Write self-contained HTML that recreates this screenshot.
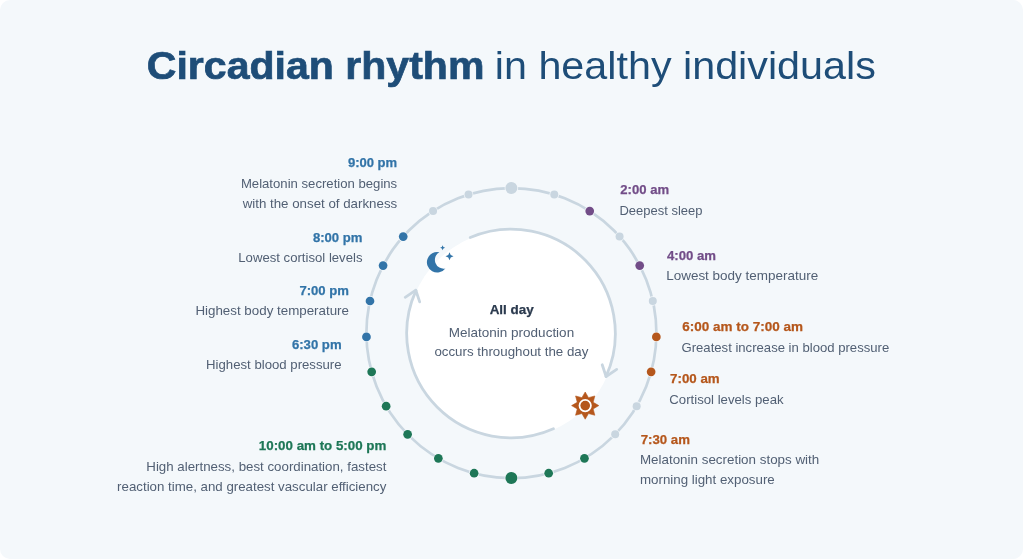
<!DOCTYPE html>
<html><head><meta charset="utf-8"><title>Circadian rhythm in healthy individuals</title>
<style>
html,body{margin:0;padding:0;background:#fff;}
.card{position:relative;width:1023px;height:559px;background:#f4f8fb;border-radius:10px;overflow:hidden;}
svg{position:absolute;left:0;top:0;will-change:transform;}
text{font-family:"Liberation Sans",Arial,sans-serif;font-size:13.3px;}
</style></head>
<body><div class="card">
<svg width="1023" height="559" viewBox="0 0 1023 559">
<text x="146.8" y="79" style="font-size:38.5px" font-weight="700" fill="#1e4d78" stroke="#1e4d78" stroke-width="0.7" textLength="337.6" lengthAdjust="spacingAndGlyphs">Circadian rhythm</text><text x="494.8" y="79" style="font-size:38.5px" font-weight="400" fill="#1e4d78" textLength="381" lengthAdjust="spacingAndGlyphs">in healthy individuals</text>
<circle cx="511.4" cy="333.1" r="145.0" fill="none" stroke="#c9d6e0" stroke-width="2.7"/>
<circle cx="511.4" cy="334.3" r="104.4" fill="#ffffff"/>
<path d="M470.25,237.49 A104.3,104.3 0 0 1 606.06,376.42" fill="none" stroke="#c9d6e0" stroke-width="2.8" stroke-linecap="round"/><path d="M553.42,428.78 A104.3,104.3 0 0 1 415.94,290.58" fill="none" stroke="#c9d6e0" stroke-width="2.8" stroke-linecap="round"/>
<path d="M602.20,364.80 L606.1,376.5 L616.70,369.40" fill="none" stroke="#c9d6e0" stroke-width="2.8" stroke-linecap="round" stroke-linejoin="round"/><path d="M419.70,301.90 L415.8,290.2 L405.20,297.30" fill="none" stroke="#c9d6e0" stroke-width="2.8" stroke-linecap="round" stroke-linejoin="round"/>
<circle cx="511.40" cy="188.10" r="6.80" fill="#f4f8fb"/><circle cx="511.40" cy="478.10" r="6.80" fill="#f4f8fb"/><circle cx="554.28" cy="194.58" r="4.80" fill="#f4f8fb"/><circle cx="589.73" cy="211.08" r="5.15" fill="#f4f8fb"/><circle cx="619.58" cy="236.55" r="4.80" fill="#f4f8fb"/><circle cx="639.72" cy="265.59" r="5.15" fill="#f4f8fb"/><circle cx="652.80" cy="300.98" r="4.80" fill="#f4f8fb"/><circle cx="656.35" cy="336.90" r="5.15" fill="#f4f8fb"/><circle cx="651.13" cy="371.85" r="5.15" fill="#f4f8fb"/><circle cx="636.66" cy="406.15" r="4.80" fill="#f4f8fb"/><circle cx="615.18" cy="434.37" r="4.80" fill="#f4f8fb"/><circle cx="584.45" cy="458.36" r="5.15" fill="#f4f8fb"/><circle cx="548.68" cy="473.22" r="5.15" fill="#f4f8fb"/><circle cx="468.52" cy="194.58" r="4.80" fill="#f4f8fb"/><circle cx="433.07" cy="211.08" r="4.80" fill="#f4f8fb"/><circle cx="403.22" cy="236.55" r="5.15" fill="#f4f8fb"/><circle cx="383.08" cy="265.59" r="5.15" fill="#f4f8fb"/><circle cx="370.00" cy="300.98" r="5.15" fill="#f4f8fb"/><circle cx="366.45" cy="336.90" r="5.15" fill="#f4f8fb"/><circle cx="371.67" cy="371.85" r="5.15" fill="#f4f8fb"/><circle cx="386.14" cy="406.15" r="5.15" fill="#f4f8fb"/><circle cx="407.62" cy="434.37" r="5.15" fill="#f4f8fb"/><circle cx="438.35" cy="458.36" r="5.15" fill="#f4f8fb"/><circle cx="474.12" cy="473.22" r="5.15" fill="#f4f8fb"/><circle cx="511.40" cy="188.10" r="6" fill="#c9d6e0"/><circle cx="511.40" cy="478.10" r="6" fill="#1e7757"/><circle cx="554.28" cy="194.58" r="4.0" fill="#c9d6e0"/><circle cx="589.73" cy="211.08" r="4.35" fill="#724d88"/><circle cx="619.58" cy="236.55" r="4.0" fill="#c9d6e0"/><circle cx="639.72" cy="265.59" r="4.35" fill="#724d88"/><circle cx="652.80" cy="300.98" r="4.0" fill="#c9d6e0"/><circle cx="656.35" cy="336.90" r="4.35" fill="#b5571c"/><circle cx="651.13" cy="371.85" r="4.35" fill="#b5571c"/><circle cx="636.66" cy="406.15" r="4.0" fill="#c9d6e0"/><circle cx="615.18" cy="434.37" r="4.0" fill="#c9d6e0"/><circle cx="584.45" cy="458.36" r="4.35" fill="#1e7757"/><circle cx="548.68" cy="473.22" r="4.35" fill="#1e7757"/><circle cx="468.52" cy="194.58" r="4.0" fill="#c9d6e0"/><circle cx="433.07" cy="211.08" r="4.0" fill="#c9d6e0"/><circle cx="403.22" cy="236.55" r="4.35" fill="#3274a8"/><circle cx="383.08" cy="265.59" r="4.35" fill="#3274a8"/><circle cx="370.00" cy="300.98" r="4.35" fill="#3274a8"/><circle cx="366.45" cy="336.90" r="4.35" fill="#3274a8"/><circle cx="371.67" cy="371.85" r="4.35" fill="#1e7757"/><circle cx="386.14" cy="406.15" r="4.35" fill="#1e7757"/><circle cx="407.62" cy="434.37" r="4.35" fill="#1e7757"/><circle cx="438.35" cy="458.36" r="4.35" fill="#1e7757"/><circle cx="474.12" cy="473.22" r="4.35" fill="#1e7757"/>
<path d="M439.38,252.23 A10.3,10.3 0 1 0 445.40,268.53 A8.8,8.8 0 0 1 439.38,252.23 Z" fill="#3274a8"/>
<polygon points="442.60,245.20 443.38,246.92 445.10,247.70 443.38,248.48 442.60,250.20 441.82,248.48 440.10,247.70 441.82,246.92" fill="#3274a8"/>
<polygon points="449.50,252.30 450.70,255.10 453.50,256.30 450.70,257.50 449.50,260.30 448.30,257.50 445.50,256.30 448.30,255.10" fill="#3274a8"/>
<polygon points="585.20,392.00 588.49,397.65 594.82,395.98 593.15,402.31 598.80,405.60 593.15,408.89 594.82,415.22 588.49,413.55 585.20,419.20 581.91,413.55 575.58,415.22 577.25,408.89 571.60,405.60 577.25,402.31 575.58,395.98 581.91,397.65" fill="#b5571c" stroke="#b5571c" stroke-width="0.6" stroke-linejoin="round"/><circle cx="585.2" cy="405.6" r="5.7" fill="none" stroke="#fff" stroke-width="1.8"/><circle cx="585.2" cy="405.6" r="4.3" fill="#b5571c"/>
<text x="397.2" y="166.7" text-anchor="end" font-weight="700" fill="#3274a8" stroke="#3274a8" stroke-width="0.25" textLength="49.3" lengthAdjust="spacingAndGlyphs">9:00 pm</text><text x="397.2" y="187.5" text-anchor="end" font-weight="400" fill="#526074" textLength="156.3" lengthAdjust="spacingAndGlyphs">Melatonin secretion begins</text><text x="397.2" y="207.7" text-anchor="end" font-weight="400" fill="#526074" textLength="154.5" lengthAdjust="spacingAndGlyphs">with the onset of darkness</text><text x="362.5" y="241.6" text-anchor="end" font-weight="700" fill="#3274a8" stroke="#3274a8" stroke-width="0.25" textLength="49.6" lengthAdjust="spacingAndGlyphs">8:00 pm</text><text x="362.5" y="261.7" text-anchor="end" font-weight="400" fill="#526074" textLength="124.2" lengthAdjust="spacingAndGlyphs">Lowest cortisol levels</text><text x="349.0" y="295.3" text-anchor="end" font-weight="700" fill="#3274a8" stroke="#3274a8" stroke-width="0.25" textLength="49.6" lengthAdjust="spacingAndGlyphs">7:00 pm</text><text x="349.0" y="314.9" text-anchor="end" font-weight="400" fill="#526074" textLength="153.6" lengthAdjust="spacingAndGlyphs">Highest body temperature</text><text x="341.6" y="348.9" text-anchor="end" font-weight="700" fill="#3274a8" stroke="#3274a8" stroke-width="0.25" textLength="49.7" lengthAdjust="spacingAndGlyphs">6:30 pm</text><text x="341.6" y="368.5" text-anchor="end" font-weight="400" fill="#526074" textLength="135.5" lengthAdjust="spacingAndGlyphs">Highest blood pressure</text><text x="386.4" y="449.8" text-anchor="end" font-weight="700" fill="#1e7757" stroke="#1e7757" stroke-width="0.25" textLength="127.6" lengthAdjust="spacingAndGlyphs">10:00 am to 5:00 pm</text><text x="386.4" y="470.5" text-anchor="end" font-weight="400" fill="#526074" textLength="240.1" lengthAdjust="spacingAndGlyphs">High alertness, best coordination, fastest</text><text x="386.4" y="490.9" text-anchor="end" font-weight="400" fill="#526074" textLength="269.3" lengthAdjust="spacingAndGlyphs">reaction time, and greatest vascular efficiency</text><text x="620.3" y="194.2" text-anchor="start" font-weight="700" fill="#724d88" stroke="#724d88" stroke-width="0.25" textLength="48.8" lengthAdjust="spacingAndGlyphs">2:00 am</text><text x="619.5" y="214.9" text-anchor="start" font-weight="400" fill="#526074" textLength="83.0" lengthAdjust="spacingAndGlyphs">Deepest sleep</text><text x="667.0" y="260.0" text-anchor="start" font-weight="700" fill="#724d88" stroke="#724d88" stroke-width="0.25" textLength="49.0" lengthAdjust="spacingAndGlyphs">4:00 am</text><text x="666.2" y="280.4" text-anchor="start" font-weight="400" fill="#526074" textLength="152.0" lengthAdjust="spacingAndGlyphs">Lowest body temperature</text><text x="682.3" y="331.1" text-anchor="start" font-weight="700" fill="#b5571c" stroke="#b5571c" stroke-width="0.25" textLength="120.6" lengthAdjust="spacingAndGlyphs">6:00 am to 7:00 am</text><text x="681.5" y="351.7" text-anchor="start" font-weight="400" fill="#526074" textLength="207.7" lengthAdjust="spacingAndGlyphs">Greatest increase in blood pressure</text><text x="670.1" y="383.1" text-anchor="start" font-weight="700" fill="#b5571c" stroke="#b5571c" stroke-width="0.25" textLength="49.6" lengthAdjust="spacingAndGlyphs">7:00 am</text><text x="669.3000000000001" y="403.7" text-anchor="start" font-weight="400" fill="#526074" textLength="114.3" lengthAdjust="spacingAndGlyphs">Cortisol levels peak</text><text x="640.75" y="444.0" text-anchor="start" font-weight="700" fill="#b5571c" stroke="#b5571c" stroke-width="0.25" textLength="49.2" lengthAdjust="spacingAndGlyphs">7:30 am</text><text x="639.95" y="464.1" text-anchor="start" font-weight="400" fill="#526074" textLength="179.3" lengthAdjust="spacingAndGlyphs">Melatonin secretion stops with</text><text x="639.95" y="484.2" text-anchor="start" font-weight="400" fill="#526074" textLength="134.8" lengthAdjust="spacingAndGlyphs">morning light exposure</text><text x="511.7" y="314.2" text-anchor="middle" font-weight="700" fill="#2b3a4e" stroke="#2b3a4e" stroke-width="0.25" textLength="44.1" lengthAdjust="spacingAndGlyphs">All day</text><text x="511.5" y="336.6" text-anchor="middle" font-weight="400" fill="#526074" textLength="125.3" lengthAdjust="spacingAndGlyphs">Melatonin production</text><text x="511.4" y="356.2" text-anchor="middle" font-weight="400" fill="#526074" textLength="154.0" lengthAdjust="spacingAndGlyphs">occurs throughout the day</text>
</svg>
</div></body></html>
